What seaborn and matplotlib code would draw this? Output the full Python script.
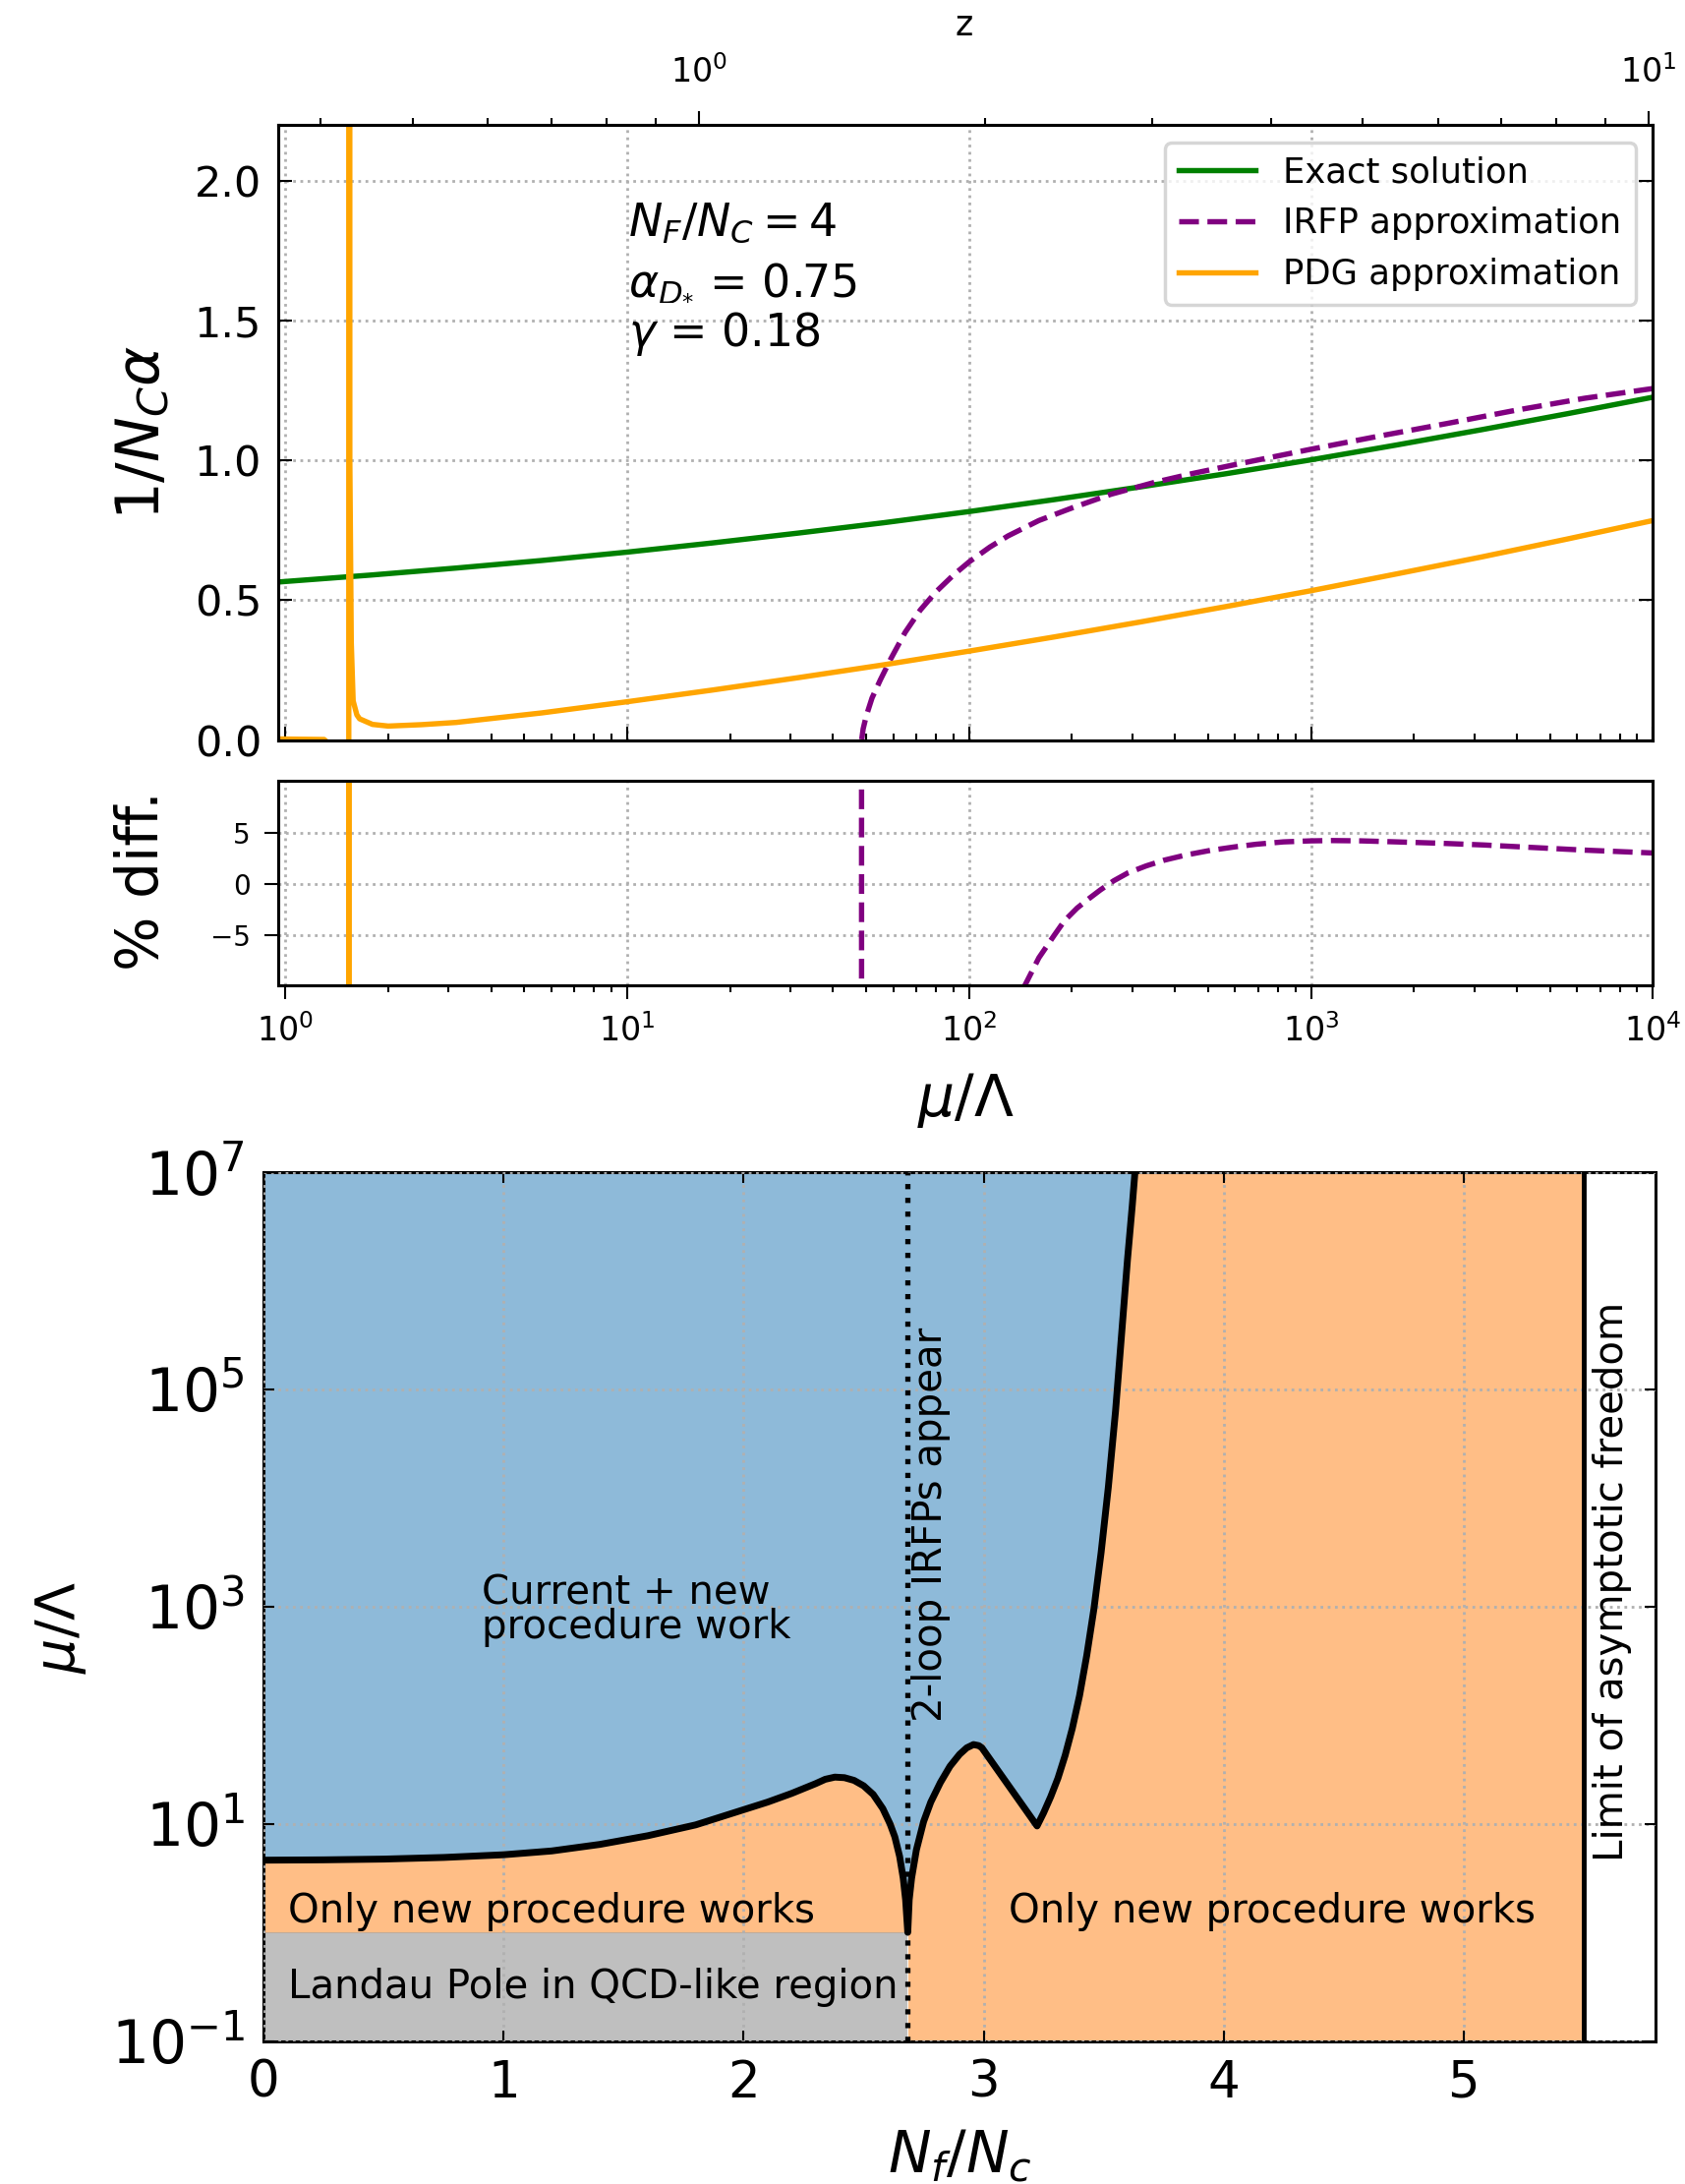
import numpy as np
import matplotlib
matplotlib.use("Agg")
import matplotlib.pyplot as plt
import seaborn as sns
from matplotlib.ticker import NullLocator, FixedLocator

# ---------------- data: top panel (1/(N_C alpha) vs mu/Lambda) ----------------
mu_exact = [0.952, 1.0, 1.78, 3.16, 5.62, 10.0, 17.8, 31.6, 56.2, 100.0, 178.0, 316.0,
            562.0, 1000.0, 1778.0, 3162.0, 5623.0, 10000.0]
inv_exact = [0.565, 0.567, 0.590, 0.615, 0.642, 0.672, 0.705, 0.740, 0.777, 0.817,
             0.860, 0.905, 0.952, 1.002, 1.055, 1.110, 1.167, 1.226]

mu_irfp = [47.0, 48.5, 49.0, 50.0, 52.0, 55.0, 59.0, 65.0, 72.0, 80.0, 90.0, 100.0,
           115.0, 130.0, 160.0, 200.0, 260.0, 350.0, 450.0, 600.0, 1000.0, 1600.0,
           2500.0, 4000.0, 6300.0, 10000.0]
inv_irfp = [-0.30, 0.0, 0.04, 0.085, 0.15, 0.215, 0.29, 0.385, 0.465, 0.53, 0.59, 0.637,
            0.69, 0.73, 0.785, 0.830, 0.879, 0.922, 0.953, 0.985, 1.040, 1.088,
            1.132, 1.180, 1.222, 1.257]

mu_pdg = [0.952, 1.1, 1.3, 1.45, 1.52, 1.534, 1.5345, 1.545, 1.56, 1.58, 1.62, 1.65,
          1.8, 2.0, 2.5, 3.16, 5.62, 10.0, 17.8, 31.6, 56.2, 100.0, 178.0, 316.0,
          562.0, 1000.0, 1778.0, 3162.0, 5623.0, 10000.0]
inv_pdg = [0.004, 0.003, 0.002, -0.05, -1.0, -50.0, 50.0, 1.0, 0.35, 0.14, 0.09, 0.076,
           0.056, 0.050, 0.055, 0.063, 0.097, 0.137, 0.179, 0.223, 0.269, 0.318, 0.369,
           0.422, 0.477, 0.534, 0.594, 0.655, 0.719, 0.785]

# ---------------- data: % difference panel ----------------
mu_dpdg = [0.952, 1.5335, 1.534, 1.5345, 2.0, 10.0, 100.0, 10000.0]
d_pdg = [-99.0, -99.0, 900.0, -90.0, -92.0, -79.0, -61.0, -36.0]

mu_dirfp = [48.4, 48.5, 60.0, 80.0, 100.0, 120.0, 140.0, 160.0, 177.0, 190.0, 207.0,
            225.0, 242.0, 265.0, 291.0, 330.0, 372.0, 430.0, 507.0, 600.0, 691.0,
            830.0, 1000.0, 1150.0, 1400.0, 1700.0, 2382.0, 3200.0, 4420.0, 6300.0,
            10000.0]
d_irfp = [300.0, -100.0, -70.0, -45.0, -27.0, -16.0, -11.0, -7.2, -5.06, -3.6, -2.36,
          -1.4, -0.6, 0.3, 1.05, 1.75, 2.3, 2.8, 3.25, 3.6, 3.85, 4.08, 4.18, 4.21,
          4.18, 4.1, 3.95, 3.78, 3.54, 3.28, 3.0]

# ---------------- data: bottom panel (phase diagram) ----------------
nf_bound = [0.0, 0.25, 0.5, 0.75, 1.0, 1.2, 1.4, 1.6, 1.8, 2.0, 2.1, 2.2, 2.3, 2.34,
            2.38, 2.42, 2.46, 2.50, 2.54, 2.58, 2.61, 2.63, 2.65, 2.665, 2.675, 2.684,
            2.69, 2.70, 2.72, 2.75, 2.78, 2.82, 2.86, 2.90, 2.93, 2.958, 2.98, 2.993,
            3.223, 3.25, 3.28, 3.31, 3.34, 3.37, 3.40, 3.43, 3.46, 3.49, 3.52, 3.55,
            3.575, 3.60, 3.62, 3.64]
log10_mu_bound = [0.665, 0.668, 0.675, 0.69, 0.715, 0.75, 0.81, 0.89, 0.99, 1.13, 1.20,
                  1.28, 1.37, 1.41, 1.43, 1.425, 1.40, 1.35, 1.27, 1.14, 1.00, 0.88,
                  0.70, 0.50, 0.30, 0.0, 0.30, 0.50, 0.76, 1.02, 1.20, 1.38, 1.53, 1.64,
                  1.70, 1.73, 1.72, 1.70, 0.98, 1.10, 1.25, 1.42, 1.63, 1.88, 2.18, 2.55,
                  2.98, 3.50, 4.10, 4.80, 5.50, 6.20, 6.70, 7.25]
nf_irfp_line = 2.684     # 2-loop IRFPs appear
nf_af_limit = 5.5        # limit of asymptotic freedom
mu_landau_top = 1.0      # top of the Landau-pole (grey) region

mu_bound = [10.0 ** v for v in log10_mu_bound]

# ---------------- figure ----------------
W, H = 1715, 2221
fig = plt.figure(figsize=(W / 100, H / 100), dpi=100)


def frac(l, t, r, b):
    return [l / W, 1 - b / H, (r - l) / W, (b - t) / H]


ax1 = fig.add_axes(frac(282.7, 126.9, 1681.4, 752.6))
ax2 = fig.add_axes(frac(282.7, 794.3, 1681.4, 1001.7))
ax3 = fig.add_axes(frac(268.4, 1192.3, 1683.8, 2075.5))

GRID = dict(ls=":", color="#b0b0b0", lw=2.0)
LW = 3.9

# ---- top panel ----
ax1.set_xscale("log")
sns.lineplot(x=mu_exact, y=inv_exact, ax=ax1, color="green", lw=LW, label="Exact solution")
sns.lineplot(x=mu_irfp, y=inv_irfp, ax=ax1, color="purple", lw=LW, ls="--",
             label="IRFP approximation")
sns.lineplot(x=mu_pdg, y=inv_pdg, ax=ax1, color="orange", lw=LW, label="PDG approximation")
ax1.set_xlim(0.952, 1e4)
ax1.set_ylim(0, 2.2)
ax1.set_yticks([0.0, 0.5, 1.0, 1.5, 2.0])
ax1.set_yticklabels(["0.0", "0.5", "1.0", "1.5", "2.0"])
ax1.set_axisbelow(True)
ax1.grid(True, which="major", **GRID)
ax1.tick_params(which="both", direction="in", top=True, right=True, labelbottom=False,
                labelsize=31, pad=12, width=1.5)
ax1.tick_params(which="major", length=10)
ax1.tick_params(which="minor", length=5)
ax1.set_xlabel("")
ax1.set_ylabel("")
for s in ax1.spines.values():
    s.set_linewidth(2.2)
leg = ax1.legend(loc="upper right", fontsize=25.5, handlelength=2.2, borderaxespad=0.5,
                 framealpha=0.8, edgecolor="#cccccc")
leg.get_frame().set_linewidth(2.5)

ax1.text(10.1, 1.805, r"$N_F/N_C = 4$", fontsize=33, va="baseline")
ax1.text(10.1, 1.601, r"$\alpha_{D_{*}}$ = 0.75", fontsize=33, va="baseline")
ax1.text(10.1, 1.407, r"$\gamma$ = 0.18", fontsize=33, va="baseline")

# secondary z axis on top
z_lo = (0.952 / 16.2) ** 0.36
z_hi = (1e4 / 16.2) ** 0.36
axz = ax1.twiny()
axz.set_xscale("log")
axz.set_xlim(z_lo, z_hi)
axz.tick_params(which="both", direction="out", top=True, bottom=False, labelsize=24,
                pad=16, width=1.5)
axz.tick_params(which="major", length=10)
axz.tick_params(which="minor", length=5)
for s in axz.spines.values():
    s.set_linewidth(2.2)

fig.text(981 / W, 1 - 26 / H, "z", fontsize=25, ha="center", va="center")
fig.text(146 / W, 1 - 440 / H, r"$1/N_C\alpha$", fontsize=44, rotation=90,
         ha="center", va="center")

# ---- % diff panel ----
ax2.set_xscale("log")
sns.lineplot(x=mu_dpdg, y=d_pdg, ax=ax2, color="orange", lw=LW, legend=False)
sns.lineplot(x=mu_dirfp, y=d_irfp, ax=ax2, color="purple", lw=LW, ls="--", legend=False)
ax2.set_xlim(0.952, 1e4)
ax2.set_ylim(-9.85, 10)
ax2.set_yticks([-5, 0, 5])
ax2.set_axisbelow(True)
ax2.grid(True, which="major", **GRID)
ax2.tick_params(which="both", direction="out", top=False, right=False, width=1.5)
ax2.tick_params(axis="y", labelsize=20, pad=10, length=10)
ax2.tick_params(axis="x", which="major", labelsize=24, pad=11, length=10)
ax2.tick_params(axis="x", which="minor", length=5)
ax2.set_xlabel("")
ax2.set_ylabel("")
for s in ax2.spines.values():
    s.set_linewidth(2.2)
fig.text(145 / W, 1 - 896 / H, "% diff.", fontsize=42, rotation=90, ha="center", va="center")
fig.text(983 / W, 1 - 1119 / H, r"$\mu/\Lambda$", fontsize=42, ha="center", va="center")

# ---- bottom panel ----
ax3.set_yscale("log")
idx = nf_bound.index(nf_irfp_line)
nf_left, mu_left = nf_bound[:idx + 1], mu_bound[:idx + 1]
nf_right = nf_bound[idx:] + [nf_af_limit]
mu_right = mu_bound[idx:] + [mu_bound[-1]]

ax3.fill_between(nf_bound, mu_bound, 1e8, color="tab:blue", alpha=0.5, lw=0)
ax3.fill_between(nf_left, mu_landau_top, mu_left, color="tab:orange", alpha=0.5, lw=0)
ax3.fill_between(nf_right, 0.1, mu_right, color="tab:orange", alpha=0.5, lw=0)
ax3.fill_between([0.0, nf_irfp_line], 0.1, mu_landau_top, color="gray", alpha=0.5, lw=0)
sns.lineplot(x=nf_bound, y=mu_bound, ax=ax3, color="black", lw=5.0, zorder=4, legend=False)
ax3.axvline(nf_irfp_line, color="black", ls=":", lw=3.8, zorder=4)
ax3.axvline(nf_af_limit, color="black", lw=3.5, zorder=4)

ax3.set_xlim(0, 5.8)
ax3.set_ylim(0.1, 1e7)
ax3.set_xticks([0, 1, 2, 3, 4, 5])
ax3.yaxis.set_major_locator(FixedLocator([1e-1, 1e1, 1e3, 1e5, 1e7]))
ax3.yaxis.set_minor_locator(NullLocator())
ax3.set_axisbelow(False)
ax3.grid(True, which="major", zorder=3, **GRID)
ax3.tick_params(which="both", direction="in", top=True, right=True,
                length=8, width=1.5)
ax3.tick_params(axis="x", pad=13, labelsize=37)
ax3.tick_params(axis="y", pad=14, labelsize=43)
ax3.set_xlabel("")
ax3.set_ylabel("")
for s in ax3.spines.values():
    s.set_linewidth(2.2)

TF = 29
ax3.text(0.908, 10 ** 2.712, "Current + new\nprocedure work", fontsize=TF, va="baseline",
         linespacing=0.82)
ax3.text(0.10, 10 ** 0.095, "Only new procedure works", fontsize=TF, va="baseline")
ax3.text(3.105, 10 ** 0.095, "Only new procedure works", fontsize=TF, va="baseline")
ax3.text(0.10, 10 ** -0.61, "Landau Pole in QCD-like region", fontsize=TF, va="baseline")
ax3.text(2.782, 10 ** 1.94, "2-loop IRFPs appear", fontsize=TF, rotation=90,
         ha="center", va="bottom")
ax3.text(5.621, 10 ** 0.653, "Limit of asymptotic freedom", fontsize=TF, rotation=90,
         ha="center", va="bottom")

fig.text(976 / W, 1 - 2192 / H, r"$N_f/N_c$", fontsize=42, ha="center", va="center")
fig.text(62 / W, 1 - 1655 / H, r"$\mu/\Lambda$", fontsize=40, rotation=90,
         ha="center", va="center")

fig.savefig("out.png", dpi=100)
